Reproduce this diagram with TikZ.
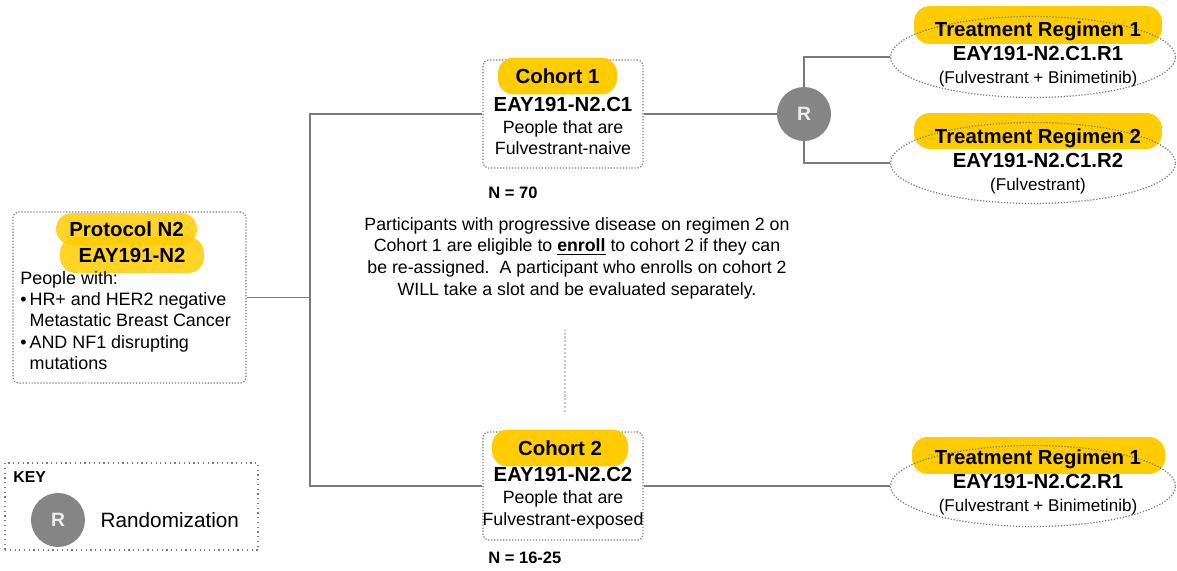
\documentclass[tikz,border=0pt]{standalone}
\usepackage{fontspec}
\setmainfont{Liberation Sans}
\usetikzlibrary{shapes.geometric,positioning}
\definecolor{hilite}{HTML}{FFCC00}
\definecolor{linegray}{HTML}{7A7A7A}
\definecolor{randgray}{HTML}{858585}
\tikzset{
  boxline/.style={draw=linegray, densely dotted, line width=0.7pt},
  cohortbox/.style={boxline, rounded corners=3pt, minimum width=3.2cm, minimum height=2.16cm},
  pill/.style={fill=hilite, rounded corners=9pt, inner sep=0pt, font=\bfseries\fontsize{11.6}{13}\selectfont},
  armellipse/.style={ellipse, boxline, minimum width=5.7cm, minimum height=1.62cm},
  randnode/.style={circle, fill=randgray, minimum size=1.08cm, inner sep=0pt,
    text=white!85!gray, font=\bfseries\fontsize{11}{13}\selectfont},
  link/.style={draw=linegray, line width=0.7pt},
  bodytext/.style={font=\fontsize{10.1}{12.4}\selectfont, align=center},
  smalltext/.style={font=\fontsize{9.7}{13}\selectfont, align=center},
  idtext/.style={font=\bfseries\fontsize{11.6}{13}\selectfont}
}
\begin{document}
\begin{tikzpicture}[x=0.02cm, y=-0.02cm]
\useasboundingbox (0,0) rectangle (1177,571);

% protocol
\node[boxline, rounded corners=3pt, minimum width=4.66cm, minimum height=3.42cm] (proto) at (129.5,297.5) {};
\node[pill, fill opacity=0.85, text opacity=1, minimum width=2.82cm, minimum height=0.64cm] (protoname) at (126.5,229) {Protocol N2};
\node[pill, fill opacity=0.85, text opacity=1, minimum width=2.88cm, minimum height=0.72cm] (protoid) at (132,255) {EAY191-N2};
\node[anchor=north west, align=left, inner sep=0pt, font=\fontsize{10.2}{12.1}\selectfont] (protodesc) at (20,271) {%
  People with:\\
  \textbullet\,HR+ and HER2 negative\\
  \hphantom{\textbullet\,}Metastatic Breast Cancer\\
  \textbullet\,AND NF1 disrupting\\
  \hphantom{\textbullet\,}mutations};

% cohorts
\node[cohortbox] (c1) at (563,114) {};
\node[pill, minimum width=2.38cm, minimum height=0.74cm] (c1name) at (557.5,76) {Cohort 1};
\node[bodytext] (c1txt) at (563,126) {\textbf{\fontsize{11.6}{13}\selectfont EAY191-N2.C1}\\People that are\\Fulvestrant-naive};
\node[anchor=west, inner sep=0pt, font=\bfseries\fontsize{9.4}{11}\selectfont] (c1n) at (488,193) {N = 70};

\node[cohortbox] (c2) at (563,486) {};
\node[pill, minimum width=2.72cm, minimum height=0.74cm] (c2name) at (560,448) {Cohort 2};
\node[bodytext] (c2txt) at (563,498) {\textbf{\fontsize{11.6}{13}\selectfont EAY191-N2.C2}\\People that are\\Fulvestrant-exposed};
\node[anchor=west, inner sep=0pt, font=\bfseries\fontsize{9.4}{11}\selectfont] (c2n) at (488,558) {N = 16-25};

% note between cohorts
\node[bodytext, font=\fontsize{10.1}{12.3}\selectfont] (note) at (577,258) {%
  Participants with progressive disease on regimen 2 on\\
  Cohort 1 are eligible to \textbf{\underline{enroll}} to cohort 2 if they can\\
  be re-assigned.\ \ A participant who enrolls on cohort 2\\
  WILL take a slot and be evaluated separately.};
\coordinate (hintlow) at (565,412);
\coordinate (hinthigh) at (565,330);
\draw[gray!45, densely dotted, line width=1.2pt] (hintlow) -- (hinthigh);

% randomization
\node[randnode] (rand) at (804,114) {R};

% treatment arms
\node[pill, minimum width=4.96cm, minimum height=0.76cm] (arm1name) at (1038,25) {};
\node[armellipse] (arm1) at (1033,57) {};
\node[idtext] (arm1head) at (1038,31) {Treatment Regimen 1};
\node[smalltext] (arm1txt) at (1038,67) {\textbf{\fontsize{11.6}{13}\selectfont EAY191-N2.C1.R1}\\(Fulvestrant + Binimetinib)};

\node[pill, minimum width=4.96cm, minimum height=0.72cm] (arm2name) at (1038,131) {};
\node[armellipse] (arm2) at (1033,163) {};
\node[idtext] (arm2head) at (1038,138) {Treatment Regimen 2};
\node[smalltext] (arm2txt) at (1038,174) {\textbf{\fontsize{11.6}{13}\selectfont EAY191-N2.C1.R2}\\(Fulvestrant)};

\node[pill, minimum width=5.06cm, minimum height=0.74cm] (arm3name) at (1038.5,455.5) {};
\node[armellipse] (arm3) at (1033,486) {};
\node[idtext] (arm3head) at (1038,459) {Treatment Regimen 1};
\node[smalltext] (arm3txt) at (1038,495) {\textbf{\fontsize{11.6}{13}\selectfont EAY191-N2.C2.R1}\\(Fulvestrant + Binimetinib)};

% connectors
\coordinate (split) at (310,297.5);
\draw[link] (proto.east) -- (split);
\draw[link] (c1.west) -| (split) |- (c2.west);
\draw[link] (c1.east) -- (rand.west);
\draw[link] (rand.north) |- (arm1.west);
\draw[link] (rand.south) |- (arm2.west);
\draw[link] (c2.east) -- (arm3.west);

% key
\node[draw=linegray, dotted, line width=0.7pt, minimum width=5.06cm, minimum height=1.74cm] (keybox) at (131.5,506.5) {};
\node[anchor=west, inner sep=0pt, font=\bfseries\fontsize{9}{11}\selectfont] (keylabel) at (13,477) {KEY};
\node[randnode] (keyrand) at (58,520) {R};
\node[right=0.3cm of keyrand, inner sep=0pt, font=\fontsize{11.8}{13}\selectfont] (keytxt) {Randomization};
\end{tikzpicture}
\end{document}
